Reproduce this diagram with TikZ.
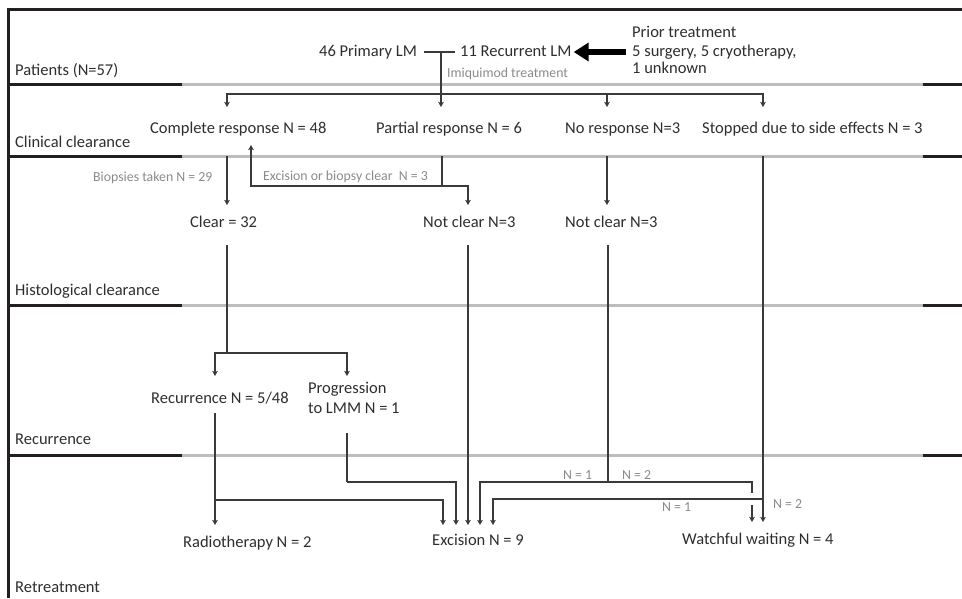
\documentclass[tikz,border=0pt]{standalone}
\usepackage{fontspec}
\setmainfont{Carlito}
\usetikzlibrary{arrows.meta}
\definecolor{textc}{HTML}{2E2E2E}
\definecolor{linec}{HTML}{3A3A3A}
\definecolor{lblc}{HTML}{8A8A8A}
\definecolor{sepgray}{HTML}{BDBDBD}
\definecolor{sepblack}{HTML}{231F20}
\begin{document}
\begin{tikzpicture}[x=1pt,y=-1pt,
  txt/.style={text=textc, font=\fontsize{16.5}{20}\selectfont, inner sep=0pt, text height=11.5pt, text depth=3.5pt, anchor=west},
  lbl/.style={text=lblc, font=\fontsize{13.8}{16}\selectfont, inner sep=0pt, text height=9.5pt, text depth=3pt, anchor=west},
  conn/.style={draw=linec, line width=1.2pt},
  arr/.style={conn, -{Stealth[length=5pt,width=5.5pt,inset=1pt]}},
  bigarr/.style={draw=black, line width=6.5pt, -{Triangle[length=15pt,width=18pt]}},
  sepg/.style={draw=sepgray, line width=3pt},
  sepk/.style={draw=sepblack, line width=3pt}]
\useasboundingbox (0,0) rectangle (962,598);

% frame
\draw[sepk] (6.5,9) -- (962,9);
\draw[sepk] (8,9) -- (8,598);
% separators
\foreach \yy in {84,156,305,455}{
  \draw[sepg] (8,\yy) -- (962,\yy);
  \draw[sepk] (8,\yy) -- (182,\yy);
  \draw[sepk] (923,\yy) -- (962,\yy);
}

% section labels
\node[txt] (sPat) at (15,71) {Patients (N=57)};
\node[txt] (sCli) at (15,143) {Clinical clearance};
\node[txt] (sHis) at (15,291) {Histological clearance};
\node[txt] (sRec) at (15,440) {Recurrence};
\node[txt] (sRet) at (15,588) {Retreatment};

% patients row
\node[txt] (pl) at (319,52) {46 Primary LM};
\node[txt] (rl) at (460,52) {11 Recurrent LM};
\node[txt] (pt1) at (632,33) {Prior treatment};
\node[txt] (pt2) at (632,52) {5 surgery, 5 cryotherapy,};
\node[txt] (pt3) at (632,69) {1 unknown};
\node[lbl] (imi) at (447,74) {Imiquimod treatment};

% clinical row
\node[txt] (cr) at (150,129) {Complete response N = 48};
\node[txt] (pr) at (376,129) {Partial response N = 6};
\node[txt] (nr) at (565,129) {No response N=3};
\node[txt] (se) at (702,129) {Stopped due to side effects N = 3};

% histological row
\node[lbl] (bio) at (93,178) {Biopsies taken N = 29};
\node[lbl] (exb) at (263,177) {Excision or biopsy clear\ \ N = 3};
\node[txt] (cl) at (190,223) {Clear = 32};
\node[txt] (nc1) at (423,223) {Not clear N=3};
\node[txt] (nc2) at (565,223) {Not clear N=3};

% recurrence row
\node[txt] (rec) at (151,399) {Recurrence N = 5/48};
\node[txt] (pg1) at (308,389) {Progression};
\node[txt] (pg2) at (308,409) {to LMM N = 1};

% retreatment row
\node[txt] (rt) at (183,543) {Radiotherapy N = 2};
\node[txt] (ex) at (432,541) {Excision N = 9};
\node[txt] (ww) at (682,540) {Watchful waiting N = 4};
\node[lbl] (n1a) at (563,476) {N = 1};
\node[lbl] (n2a) at (622,476) {N = 2};
\node[lbl] (n1b) at (662,508) {N = 1};
\node[lbl] (n2b) at (773,505) {N = 2};

% coordinates
\coordinate (jA) at (441,52);
\coordinate (jB) at (441,94);
\coordinate (tCR) at (227,107);
\coordinate (tPR) at (441,107);
\coordinate (tNR) at (607,107);
\coordinate (tSE) at (763,107);

\coordinate (sCR) at (227,156);
\coordinate (tCL) at (227,205);
\coordinate (sPR) at (442,156);
\coordinate (jC) at (442,186);
\coordinate (tUp) at (251,145);
\coordinate (tNC1) at (468,205);
\coordinate (sNR) at (607,156);
\coordinate (tNC2) at (607,205);
\coordinate (sSE) at (763,156);

\coordinate (sCL) at (227,245);
\coordinate (jD) at (227,353);
\coordinate (tREC) at (215,376);
\coordinate (tPG) at (347,376);
\coordinate (sNC1) at (468,245);
\coordinate (sNC2) at (608,245);
\coordinate (jE) at (608,482);

\coordinate (sREC) at (215,413);
\coordinate (jF) at (215,500);
\coordinate (tRT) at (215,525);
\coordinate (sPG) at (347,433);
\coordinate (jG) at (347,482);
\coordinate (tEx1) at (443,525);
\coordinate (tEx2) at (456,525);
\coordinate (tEx3) at (468,525);
\coordinate (tEx4) at (480,525);
\coordinate (tEx5) at (493,525);
\coordinate (gapA) at (752,493);
\coordinate (gapB) at (752,505);
\coordinate (tWW1) at (752,522);
\coordinate (jH) at (763,499);
\coordinate (tWW2) at (763,522);

% patients connectors
\draw[conn, shorten <=7pt, shorten >=5pt] (pl) -- (rl);
\draw[bigarr, shorten <=6pt, shorten >=2pt] (pt2) -- (rl);
\draw[arr] (jA) -- (tPR);
\draw[arr] (jB) -| (tCR);
\draw[arr] (jB) -| (tNR);
\draw[arr] (jB) -| (tSE);

% clinical -> histological
\draw[arr] (sCR) -- (tCL);
\draw[conn] (sPR) -- (jC);
\draw[arr] (jC) -| (tUp);
\draw[arr] (jC) -| (tNC1);
\draw[arr] (sNR) -- (tNC2);

% histological -> recurrence
\draw[conn] (sCL) -- (jD);
\draw[arr] (jD) -| (tREC);
\draw[arr] (jD) -| (tPG);
\draw[arr] (sNC1) -- (tEx3);
\draw[conn] (sNC2) -- (jE);
\draw[arr] (jE) -| (tEx4);
\draw[conn] (jE) -| (gapA);
\draw[arr] (gapB) -- (tWW1);

% recurrence -> retreatment
\draw[arr] (sREC) -- (tRT);
\draw[arr] (jF) -| (tEx1);
\draw[conn] (sPG) -- (jG);
\draw[arr] (jG) -| (tEx2);
\draw[arr] (sSE) -- (tWW2);
\draw[arr] (jH) -| (tEx5);
\end{tikzpicture}
\end{document}
